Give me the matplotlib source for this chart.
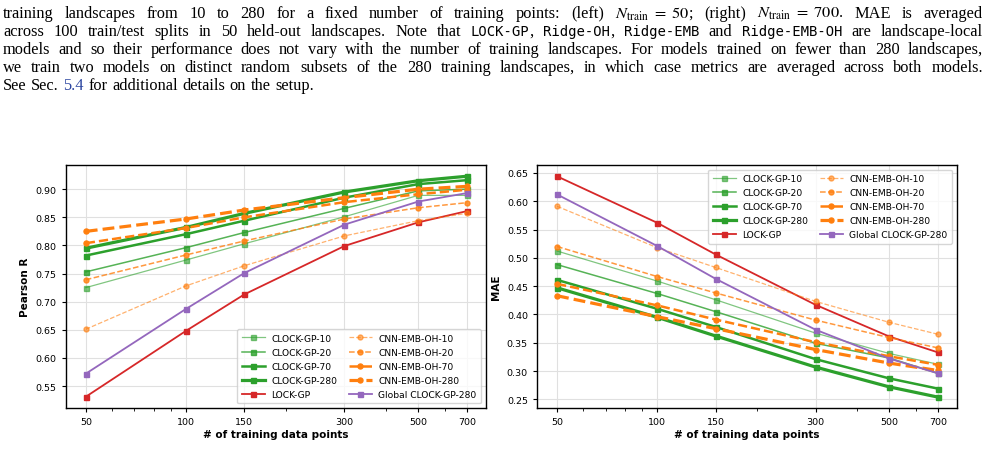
import re
import matplotlib
matplotlib.use('Agg')
import matplotlib.pyplot as plt
from matplotlib.ticker import FixedLocator, FixedFormatter, NullFormatter, LogLocator

plt.rcParams['mathtext.fontset'] = 'stix'

# x values (number of training data points)
n_points = [50, 100, 150, 300, 500, 700]
tick_labels = ['50', '100', '150', '300', '500', '700']

series_names = ['CLOCK-GP-10', 'CLOCK-GP-20', 'CLOCK-GP-70', 'CLOCK-GP-280', 'LOCK-GP',
                'CNN-EMB-OH-10', 'CNN-EMB-OH-20', 'CNN-EMB-OH-70', 'CNN-EMB-OH-280',
                'Global CLOCK-GP-280']

# left panel: Pearson R
pearson_clock_10 = [0.725, 0.774, 0.803, 0.851, 0.889, 0.889]
pearson_clock_20 = [0.753, 0.796, 0.823, 0.866, 0.897, 0.900]
pearson_clock_70 = [0.782, 0.820, 0.844, 0.885, 0.909, 0.916]
pearson_clock_280 = [0.795, 0.832, 0.857, 0.895, 0.915, 0.923]
pearson_lock = [0.531, 0.648, 0.713, 0.799, 0.841, 0.861]
pearson_cnn_10 = [0.651, 0.728, 0.764, 0.817, 0.844, 0.857]
pearson_cnn_20 = [0.739, 0.783, 0.808, 0.847, 0.867, 0.876]
pearson_cnn_70 = [0.804, 0.831, 0.850, 0.877, 0.891, 0.899]
pearson_cnn_280 = [0.825, 0.847, 0.863, 0.885, 0.900, 0.905]
pearson_global = [0.572, 0.687, 0.751, 0.837, 0.878, 0.893]

# right panel: MAE
mae_clock_10 = [0.512, 0.459, 0.426, 0.367, 0.331, 0.312]
mae_clock_20 = [0.488, 0.437, 0.405, 0.349, 0.323, 0.296]
mae_clock_70 = [0.461, 0.410, 0.378, 0.321, 0.287, 0.269]
mae_clock_280 = [0.447, 0.395, 0.362, 0.307, 0.272, 0.254]
mae_lock = [0.644, 0.562, 0.506, 0.417, 0.361, 0.333]
mae_cnn_10 = [0.591, 0.518, 0.483, 0.423, 0.386, 0.365]
mae_cnn_20 = [0.520, 0.467, 0.438, 0.390, 0.359, 0.341]
mae_cnn_70 = [0.454, 0.416, 0.391, 0.351, 0.326, 0.311]
mae_cnn_280 = [0.433, 0.396, 0.375, 0.338, 0.314, 0.301]
mae_global = [0.612, 0.521, 0.463, 0.373, 0.322, 0.296]

pearson_values = [pearson_clock_10, pearson_clock_20, pearson_clock_70, pearson_clock_280, pearson_lock,
                  pearson_cnn_10, pearson_cnn_20, pearson_cnn_70, pearson_cnn_280, pearson_global]
mae_values = [mae_clock_10, mae_clock_20, mae_clock_70, mae_clock_280, mae_lock,
              mae_cnn_10, mae_cnn_20, mae_cnn_70, mae_cnn_280, mae_global]

caption_lines = [
    r'training landscapes from 10 to 280 for a fixed number of training points: (left) $N_{\mathrm{train}}\ =\ 50$; (right) $N_{\mathrm{train}}\ =\ 700$. MAE is averaged',
    r'across 100 train/test splits in 50 held-out landscapes. Note that [tt|LOCK-GP], [tt|Ridge-OH], [tt|Ridge-EMB] and [tt|Ridge-EMB-OH] are landscape-local',
    r'models and so their performance does not vary with the number of training landscapes. For models trained on fewer than 280 landscapes,',
    r'we train two models on distinct random subsets of the 280 training landscapes, in which case metrics are averaged across both models.',
    r'See Sec. [ref|5.4] for additional details on the setup.',
]

GREEN = '#2ca02c'
ORANGE = '#ff7f0e'
styles = [
    dict(color=GREEN, alpha=0.6, lw=0.9, ls='-', marker='s'),
    dict(color=GREEN, alpha=0.8, lw=1.1, ls='-', marker='s'),
    dict(color=GREEN, alpha=1.0, lw=1.8, ls='-', marker='s'),
    dict(color=GREEN, alpha=1.0, lw=2.3, ls='-', marker='s'),
    dict(color='#d62728', alpha=1.0, lw=1.3, ls='-', marker='s'),
    dict(color=ORANGE, alpha=0.6, lw=0.9, ls='--', marker='o'),
    dict(color=ORANGE, alpha=0.8, lw=1.1, ls='--', marker='o'),
    dict(color=ORANGE, alpha=1.0, lw=1.8, ls='--', marker='o'),
    dict(color=ORANGE, alpha=1.0, lw=2.3, ls='--', marker='o'),
    dict(color='#9467bd', alpha=1.0, lw=1.3, ls='-', marker='s'),
]

W, H = 987, 456
fig = plt.figure(figsize=(W / 100, H / 100), dpi=100)
renderer = fig.canvas.get_renderer()

# ---- caption text, justified line by line ----
fonts = {'rm': dict(family='Liberation Serif', size=11, color='black'),
         'tt': dict(family='DejaVu Sans Mono', size=9.3, color='black'),
         'ref': dict(family='Liberation Serif', size=11, color='#2b45a0')}


def segments(word):
    parts = []
    for m in re.finditer(r'\[(\w+)\|([^\]]*)\]|([^\[]+)', word):
        if m.group(3):
            parts.append((m.group(3), 'rm'))
        else:
            parts.append((m.group(2), m.group(1)))
    return parts


def width_of(s, style):
    t = fig.text(0, 0, s, **fonts[style])
    w = t.get_window_extent(renderer).width
    t.remove()
    return w


def split_words(line):
    # keep math chunks together even if they contain spaces
    return [w.replace('\x00', ' ') for w in
            re.sub(r'\$[^$]*\$', lambda m: m.group(0).replace(' ', '\x00'), line).split(' ')]


x_left, x_right = 3, 983

# pick a size so the full lines only need a little extra spacing
space_w = width_of('a a', 'rm') - width_of('aa', 'rm')
natural = []
for line in caption_lines[:-1]:
    words = [segments(w) for w in split_words(line)]
    natural.append(sum(width_of(s, st) for w in words for s, st in w) + space_w * (len(words) - 1))
scale = min((x_right - x_left - 8) / n for n in natural) * 0.93
for k in fonts:
    fonts[k]['size'] *= scale

space_w = width_of('a a', 'rm') - width_of('aa', 'rm')
baselines = [17.5, 35.7, 54.0, 72.2, 90.5]
for i, (line, yb) in enumerate(zip(caption_lines, baselines)):
    words = [segments(w) for w in split_words(line)]
    widths = [[width_of(s, st) for s, st in w] for w in words]
    total = sum(sum(ws) for ws in widths)
    if i < len(caption_lines) - 1:
        gap = (x_right - x_left - total) / (len(words) - 1)
    else:
        gap = space_w * 1.1
    x = x_left
    for w, ws in zip(words, widths):
        for (s, st), sw in zip(w, ws):
            fig.text(x / W, 1 - yb / H, s, ha='left', va='baseline', **fonts[st])
            x += sw
        x += gap


# ---- the two panels ----
def draw_panel(ax, values, ylabel, ylim, yticks, loc):
    for name, vals, st in zip(series_names, values, styles):
        ax.plot(n_points, vals, label=name, markersize=3.6, **st)
    ax.set_xscale('log')
    ax.set_xlim(43.5, 798)
    ax.xaxis.set_major_locator(FixedLocator(n_points))
    ax.xaxis.set_major_formatter(FixedFormatter(tick_labels))
    ax.xaxis.set_minor_locator(LogLocator(base=10, subs=range(2, 10)))
    ax.xaxis.set_minor_formatter(NullFormatter())
    ax.set_ylim(*ylim)
    ax.set_yticks(yticks)
    ax.set_yticklabels(['%.2f' % v for v in yticks])
    ax.tick_params(labelsize=6.8, length=3, width=0.8)
    ax.tick_params(which='minor', length=1.8, width=0.6)
    ax.grid(True, which='major', color='0.88', lw=0.8)
    ax.set_axisbelow(True)
    for sp in ax.spines.values():
        sp.set_linewidth(1.0)
    ax.set_xlabel('# of training data points', fontsize=7.5, fontweight='bold', labelpad=2)
    ax.set_ylabel(ylabel, fontsize=7.5, fontweight='bold', labelpad=4)
    ax.legend(loc=loc, ncol=2, fontsize=6.6, handlelength=2.5, handletextpad=0.7,
              columnspacing=1.3, labelspacing=0.55, borderpad=0.5, fancybox=True)


ax1 = fig.add_axes([65.7 / W, 47 / H, 420 / W, 243 / H])
ax2 = fig.add_axes([537 / W, 47 / H, 419.7 / W, 243 / H])

draw_panel(ax1, pearson_values, 'Pearson R', (0.511, 0.943),
           [0.55, 0.60, 0.65, 0.70, 0.75, 0.80, 0.85, 0.90], 'lower right')
draw_panel(ax2, mae_values, 'MAE', (0.2347, 0.664),
           [0.25, 0.30, 0.35, 0.40, 0.45, 0.50, 0.55, 0.60, 0.65], 'upper right')

fig.savefig('out.png', dpi=100)
